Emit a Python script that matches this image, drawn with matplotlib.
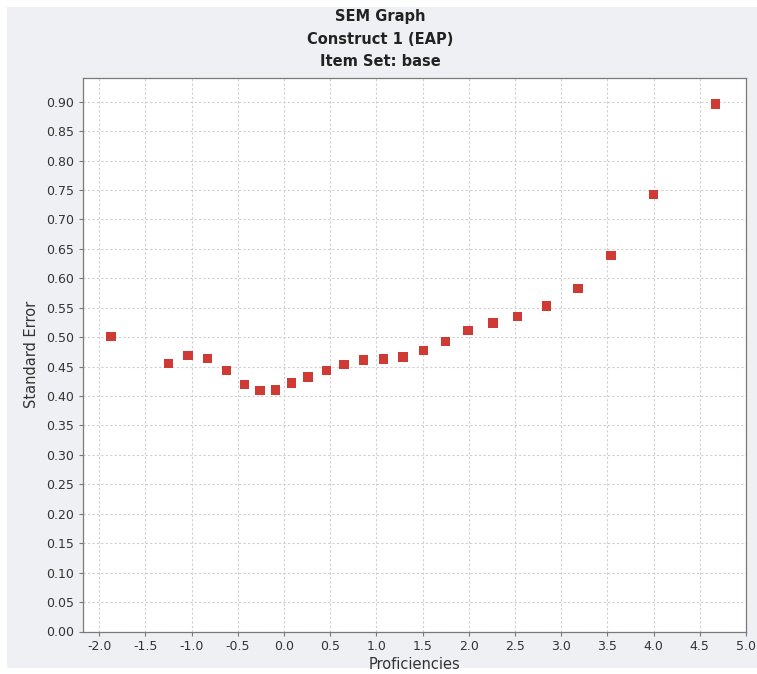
import matplotlib
matplotlib.use("Agg")
import matplotlib.pyplot as plt
from matplotlib.patches import Rectangle

# Standard error of measurement across the proficiency scale
proficiency = [-1.87, -1.25, -1.04, -0.83, -0.62, -0.43, -0.26, -0.09, 0.08, 0.26,
               0.46, 0.65, 0.86, 1.08, 1.29, 1.51, 1.75, 1.99, 2.26, 2.53,
               2.84, 3.18, 3.54, 4.00, 4.67]
std_error = [0.501, 0.455, 0.469, 0.464, 0.443, 0.420, 0.409, 0.410, 0.422, 0.432,
             0.443, 0.454, 0.461, 0.463, 0.466, 0.477, 0.493, 0.511, 0.524, 0.535,
             0.553, 0.583, 0.639, 0.742, 0.896]

x_ticks = [-2.0, -1.5, -1.0, -0.5, 0.0, 0.5, 1.0, 1.5, 2.0, 2.5, 3.0, 3.5, 4.0, 4.5, 5.0]
y_ticks = [round(0.05 * i, 2) for i in range(19)]

title_lines = ["SEM Graph", "Construct 1 (EAP)", "Item Set: base"]
x_label = "Proficiencies"
y_label = "Standard Error"

W, H = 757, 674
plt.rcParams["font.family"] = ["DejaVu Sans"]
fig = plt.figure(figsize=(W / 100, H / 100), dpi=100)
fig.patch.set_facecolor("white")

# light gray chart panel behind the axes
panel = Rectangle((7 / W, 1 - 668 / H), (W - 7) / W, (668 - 7) / H,
                  transform=fig.transFigure, facecolor="#eef0f3",
                  edgecolor="none", zorder=-10)
fig.add_artist(panel)

left, right, top, bottom = 82.5, 746, 77.5, 631.5
ax = fig.add_axes([left / W, 1 - bottom / H, (right - left) / W, (bottom - top) / H])
ax.set_zorder(1)
ax.set_facecolor("white")

ax.scatter(proficiency, std_error, marker="s", s=46, color="#cf3a35",
           edgecolors="none", zorder=3)

ax.set_xlim(-2.18, 5.0)
ax.set_ylim(0.0, 0.941)
ax.set_xticks(x_ticks)
ax.set_xticklabels([f"{t:.1f}" for t in x_ticks])
ax.set_yticks(y_ticks)
ax.set_yticklabels([f"{t:.2f}" for t in y_ticks])

ax.grid(True, color="#cfcfcf", linestyle=(0, (2, 2)), linewidth=0.8)
ax.set_axisbelow(True)

for side in ax.spines.values():
    side.set_color("#7a7a7a")
    side.set_linewidth(0.9)

ax.tick_params(axis="both", direction="out", length=3, width=0.8,
               color="#7a7a7a", labelcolor="#333333", labelsize=9, pad=3)

ax.set_xlabel(x_label, fontsize=10.5, color="#333333", labelpad=3)
ax.set_ylabel(y_label, fontsize=10.5, color="#333333", labelpad=5)

for i, line in enumerate(title_lines):
    fig.text(380 / W, 1 - (17 + 22 * i) / H, line, ha="center", va="center",
             fontsize=10.5, fontweight="bold", color="#222222")

fig.savefig("out.png", dpi=100, facecolor=fig.get_facecolor())
